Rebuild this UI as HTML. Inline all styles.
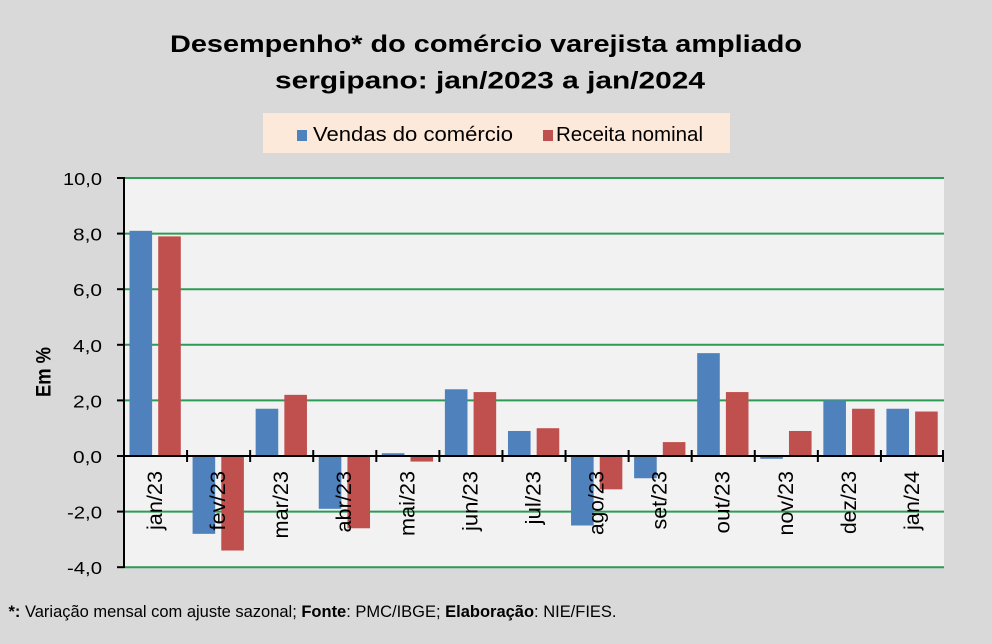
<!DOCTYPE html>
<html><head><meta charset="utf-8"><style>
html,body{margin:0;padding:0;background:#d9d9d9;}
svg{display:block;}
text{font-family:"Liberation Sans",Arial,sans-serif;fill:#000;}
</style></head><body>
<svg width="992" height="644" viewBox="0 0 992 644" xmlns="http://www.w3.org/2000/svg">
<rect x="0" y="0" width="992" height="644" fill="#d9d9d9"/>
<!-- title -->
<text x="170" y="52" font-size="24" font-weight="bold" textLength="632" lengthAdjust="spacingAndGlyphs">Desempenho* do comércio varejista ampliado</text>
<text x="275" y="88.5" font-size="24" font-weight="bold" textLength="430" lengthAdjust="spacingAndGlyphs">sergipano: jan/2023 a jan/2024</text>
<!-- legend -->
<rect x="263" y="113" width="467" height="40" fill="#fde9d9"/>
<rect x="297" y="130" width="10" height="11" fill="#4f81bd"/>
<text x="313" y="141" font-size="20.5" textLength="200" lengthAdjust="spacingAndGlyphs">Vendas do comércio</text>
<rect x="543" y="130" width="10" height="11" fill="#c0504d"/>
<text x="556" y="141" font-size="20.5" textLength="147" lengthAdjust="spacingAndGlyphs">Receita nominal</text>
<!-- plot area -->
<rect x="124" y="178" width="820" height="389" fill="#f2f2f2"/>
<g stroke="#2e9b55" stroke-width="2">
<line x1="124" y1="178" x2="944" y2="178"/>
<line x1="124" y1="233.6" x2="944" y2="233.6"/>
<line x1="124" y1="289.2" x2="944" y2="289.2"/>
<line x1="124" y1="344.8" x2="944" y2="344.8"/>
<line x1="124" y1="400.4" x2="944" y2="400.4"/>
<line x1="124" y1="511.6" x2="944" y2="511.6"/>
<line x1="124" y1="567.2" x2="944" y2="567.2"/>
</g>
<!-- blue bars -->
<g fill="#4f81bd">
<rect x="129.5" y="230.82" width="22.6" height="225.18"/>
<rect x="192.58" y="456" width="22.6" height="77.84"/>
<rect x="255.65" y="408.74" width="22.6" height="47.26"/>
<rect x="318.73" y="456" width="22.6" height="52.82"/>
<rect x="381.81" y="453.22" width="22.6" height="2.78"/>
<rect x="444.88" y="389.28" width="22.6" height="66.72"/>
<rect x="507.96" y="430.98" width="22.6" height="25.02"/>
<rect x="571.04" y="456" width="22.6" height="69.5"/>
<rect x="634.12" y="456" width="22.6" height="22.24"/>
<rect x="697.19" y="353.14" width="22.6" height="102.86"/>
<rect x="760.27" y="456" width="22.6" height="2.78"/>
<rect x="823.35" y="400.4" width="22.6" height="55.6"/>
<rect x="886.42" y="408.74" width="22.6" height="47.26"/>
</g>
<!-- red bars -->
<g fill="#c0504d">
<rect x="158.2" y="236.38" width="22.6" height="219.62"/>
<rect x="221.28" y="456" width="22.6" height="94.52"/>
<rect x="284.35" y="394.84" width="22.6" height="61.16"/>
<rect x="347.43" y="456" width="22.6" height="72.28"/>
<rect x="410.51" y="456" width="22.6" height="5.56"/>
<rect x="473.58" y="392.06" width="22.6" height="63.94"/>
<rect x="536.66" y="428.2" width="22.6" height="27.8"/>
<rect x="599.74" y="456" width="22.6" height="33.36"/>
<rect x="662.82" y="442.1" width="22.6" height="13.9"/>
<rect x="725.89" y="392.06" width="22.6" height="63.94"/>
<rect x="788.97" y="430.98" width="22.6" height="25.02"/>
<rect x="852.05" y="408.74" width="22.6" height="47.26"/>
<rect x="915.12" y="411.52" width="22.6" height="44.48"/>
</g>
<!-- axes -->
<g stroke="#000" stroke-width="2">
<line x1="124" y1="177" x2="124" y2="568"/>
<line x1="123" y1="456" x2="944" y2="456"/>
<line x1="117" y1="178" x2="124" y2="178"/>
<line x1="117" y1="233.6" x2="124" y2="233.6"/>
<line x1="117" y1="289.2" x2="124" y2="289.2"/>
<line x1="117" y1="344.8" x2="124" y2="344.8"/>
<line x1="117" y1="400.4" x2="124" y2="400.4"/>
<line x1="117" y1="456" x2="124" y2="456"/>
<line x1="117" y1="511.6" x2="124" y2="511.6"/>
<line x1="117" y1="567.2" x2="124" y2="567.2"/>
<line x1="187.08" y1="450" x2="187.08" y2="462"/>
<line x1="250.15" y1="450" x2="250.15" y2="462"/>
<line x1="313.23" y1="450" x2="313.23" y2="462"/>
<line x1="376.31" y1="450" x2="376.31" y2="462"/>
<line x1="439.38" y1="450" x2="439.38" y2="462"/>
<line x1="502.46" y1="450" x2="502.46" y2="462"/>
<line x1="565.54" y1="450" x2="565.54" y2="462"/>
<line x1="628.62" y1="450" x2="628.62" y2="462"/>
<line x1="691.69" y1="450" x2="691.69" y2="462"/>
<line x1="754.77" y1="450" x2="754.77" y2="462"/>
<line x1="817.85" y1="450" x2="817.85" y2="462"/>
<line x1="880.92" y1="450" x2="880.92" y2="462"/>
<line x1="943" y1="450" x2="943" y2="462"/>
</g>
<!-- y tick labels -->
<g font-size="17.3" text-anchor="end">
<text x="102" y="185" textLength="39" lengthAdjust="spacingAndGlyphs">10,0</text>
<text x="102" y="240.6" textLength="29" lengthAdjust="spacingAndGlyphs">8,0</text>
<text x="102" y="296.2" textLength="29" lengthAdjust="spacingAndGlyphs">6,0</text>
<text x="102" y="351.8" textLength="29" lengthAdjust="spacingAndGlyphs">4,0</text>
<text x="102" y="407.4" textLength="29" lengthAdjust="spacingAndGlyphs">2,0</text>
<text x="102" y="463" textLength="29" lengthAdjust="spacingAndGlyphs">0,0</text>
<text x="102" y="518.6" textLength="35" lengthAdjust="spacingAndGlyphs">-2,0</text>
<text x="102" y="574.2" textLength="35" lengthAdjust="spacingAndGlyphs">-4,0</text>
</g>
<!-- y axis title -->
<text transform="translate(50.5,372) rotate(-90)" font-size="21" font-weight="bold" text-anchor="middle" textLength="50" lengthAdjust="spacingAndGlyphs">Em %</text>
<!-- category labels -->
<g font-size="21" text-anchor="end">
<text transform="translate(162,471) rotate(-90)" textLength="59" lengthAdjust="spacingAndGlyphs">jan/23</text>
<text transform="translate(225.1,471) rotate(-90)" textLength="59.5" lengthAdjust="spacingAndGlyphs">fev/23</text>
<text transform="translate(288.2,471) rotate(-90)" textLength="67.5" lengthAdjust="spacingAndGlyphs">mar/23</text>
<text transform="translate(351.2,471) rotate(-90)" textLength="61.5" lengthAdjust="spacingAndGlyphs">abr/23</text>
<text transform="translate(414.3,471) rotate(-90)" textLength="65" lengthAdjust="spacingAndGlyphs">mai/23</text>
<text transform="translate(477.4,471) rotate(-90)" textLength="60" lengthAdjust="spacingAndGlyphs">jun/23</text>
<text transform="translate(540.5,471) rotate(-90)" textLength="53.5" lengthAdjust="spacingAndGlyphs">jul/23</text>
<text transform="translate(603.5,471) rotate(-90)" textLength="64" lengthAdjust="spacingAndGlyphs">ago/23</text>
<text transform="translate(666.6,471) rotate(-90)" textLength="58.5" lengthAdjust="spacingAndGlyphs">set/23</text>
<text transform="translate(729.7,471) rotate(-90)" textLength="62.5" lengthAdjust="spacingAndGlyphs">out/23</text>
<text transform="translate(792.8,471) rotate(-90)" textLength="64.5" lengthAdjust="spacingAndGlyphs">nov/23</text>
<text transform="translate(855.9,471) rotate(-90)" textLength="63" lengthAdjust="spacingAndGlyphs">dez/23</text>
<text transform="translate(918.9,471) rotate(-90)" textLength="59" lengthAdjust="spacingAndGlyphs">jan/24</text>
</g>
<!-- footnote -->
<text x="8.5" y="617" font-size="16.8" textLength="608" lengthAdjust="spacingAndGlyphs"><tspan font-weight="bold">*:</tspan> Variação mensal com ajuste sazonal; <tspan font-weight="bold">Fonte</tspan>: PMC/IBGE; <tspan font-weight="bold">Elaboração</tspan>: NIE/FIES.</text>
</svg>
</body></html>
